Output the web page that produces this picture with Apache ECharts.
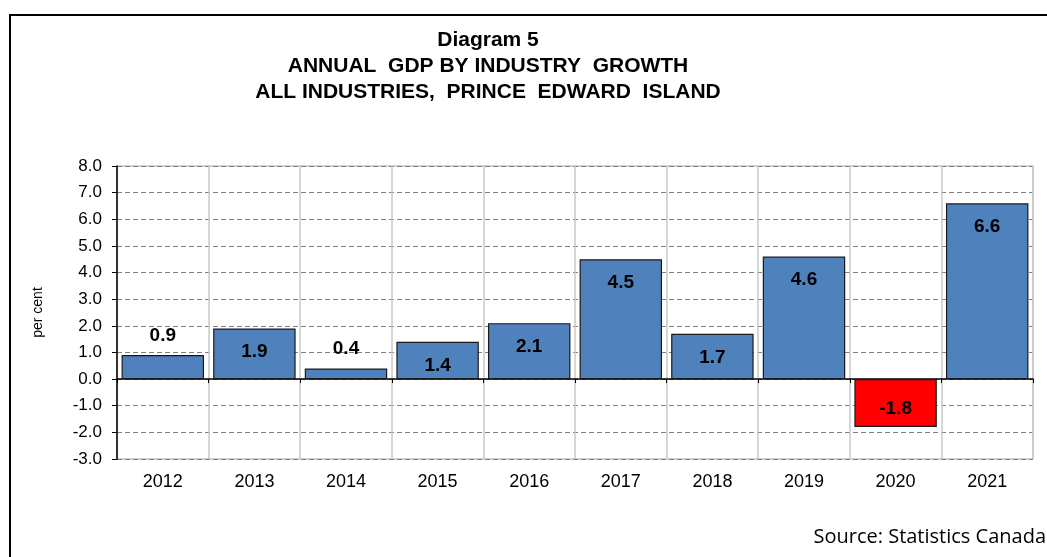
<!DOCTYPE html>
<html>
<head>
<meta charset="utf-8">
<script src="https://cdn.jsdelivr.net/npm/echarts@6/dist/echarts.min.js"></script>
<style>
  html, body { margin: 0; padding: 0; background: #fff; }
  #chart { width: 1047px; height: 557px; }
</style>
</head>
<body>
<div id="chart"></div>
<script>
// data
const years = ['2012', '2013', '2014', '2015', '2016', '2017', '2018', '2019', '2020', '2021'];
const growth = [0.9, 1.9, 0.4, 1.4, 2.1, 4.5, 1.7, 4.6, -1.8, 6.6];
const titleLines = ['Diagram 5', 'ANNUAL  GDP BY INDUSTRY  GROWTH', 'ALL INDUSTRIES,  PRINCE  EDWARD  ISLAND'];

const font = '"Liberation Sans", Arial, sans-serif';

// small bars get their label above, negative bar gets it in the middle
const barData = growth.map(v => {
    let label;
    if (v < 0) label = { position: 'inside', offset: [0, 6] };
    else if (v < 1) label = { position: 'top', distance: 10 };
    else label = { position: 'insideTop', distance: 14 };
    return {
        value: v,
        itemStyle: { color: v < 0 ? '#FF0000' : '#4F81BD' },
        label: label
    };
});

const chart = echarts.init(document.getElementById('chart'));
chart.setOption({
    animation: false,
    textStyle: { fontFamily: font },
    graphic: [
        {
            type: 'rect',
            shape: { x: 10, y: 15, width: 1200, height: 700 },
            style: { fill: 'none', stroke: '#000', lineWidth: 2 },
            silent: true
        },
        {
            type: 'text',
            x: 488, y: 27,
            style: {
                text: titleLines.join('\n'),
                align: 'center',
                font: 'bold 21px ' + font,
                lineHeight: 26,
                fill: '#000'
            }
        },
        {
            type: 'text',
            right: 1, top: 527,
            style: {
                text: 'Source: Statistics Canada',
                font: '20px "Open Sans", "Noto Sans", sans-serif',
                fill: '#000'
            }
        }
    ],
    grid: {
        left: 117, right: 14, top: 166, bottom: 98,
        show: true,
        borderColor: '#a6a6a6',
        borderWidth: 1
    },
    xAxis: [
        {
            type: 'category',
            data: years,
            axisLine: { onZero: true, lineStyle: { color: '#000', width: 1.5 } },
            axisTick: { show: true, length: 4, lineStyle: { color: '#000' } },
            axisLabel: { show: false },
            splitLine: { show: true, lineStyle: { color: '#c8c8c8', width: 1.5 } }
        },
        {
            type: 'category',
            position: 'bottom',
            data: years,
            axisLine: { onZero: false, show: false },
            axisTick: { show: false },
            axisLabel: { color: '#000', fontSize: 18, margin: 14, fontFamily: font },
            splitLine: { show: false }
        }
    ],
    yAxis: {
        type: 'value',
        min: -3, max: 8, interval: 1,
        name: 'per cent',
        nameLocation: 'middle',
        nameGap: 72,
        nameTextStyle: { color: '#000', fontSize: 14, fontFamily: font },
        axisLine: { show: true, lineStyle: { color: '#000', width: 1.5 } },
        axisTick: { show: true, length: 5, lineStyle: { color: '#000' } },
        axisLabel: {
            color: '#000', fontSize: 17, margin: 15, fontFamily: font,
            formatter: v => v.toFixed(1)
        },
        splitLine: { show: true, lineStyle: { color: '#808080', type: [5, 3], width: 1 } }
    },
    series: [{
        type: 'bar',
        xAxisIndex: 0,
        data: barData,
        barCategoryGap: '10%',
        itemStyle: { borderColor: '#1a1a1a', borderWidth: 1.2 },
        label: {
            show: true,
            color: '#000',
            fontSize: 19,
            fontWeight: 'bold',
            fontFamily: font,
            formatter: p => p.value.toFixed(1)
        }
    }]
});
</script>
</body>
</html>
